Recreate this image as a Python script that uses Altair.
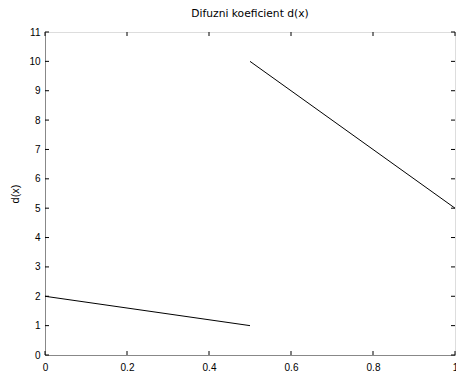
import altair as alt
import pandas as pd

# data
seg_id = ["a", "a", "b", "b"]
x_vals = [0.0, 0.5, 0.5, 1.0]
d_vals = [2.0, 1.0, 10.0, 5.0]
x_ticks = [0, 0.2, 0.4, 0.6, 0.8, 1.0]
y_ticks = list(range(0, 12))

W, H = 410, 323
TL = 4  # tick length
FONT = "DejaVu Sans"

df = pd.DataFrame({"seg": seg_id, "x": x_vals, "d": d_vals})
xt = pd.DataFrame({"t": x_ticks})
yt = pd.DataFrame({"t": y_ticks})

xs = alt.Scale(domain=[0, 1], nice=False)
ys = alt.Scale(domain=[0, 11], nice=False)

xa = alt.Axis(values=x_ticks, tickSize=0, grid=False, labelPadding=7,
              titlePadding=10, format="~g", labelFlush=False,
              labelOverlap=False, titleFontWeight="normal")
ya = alt.Axis(values=y_ticks, tickSize=0, grid=False, labelPadding=5,
              titlePadding=8, labelFlush=False, labelOverlap=False,
              titleFontWeight="normal")

lines = alt.Chart(df).mark_line(color="black", strokeWidth=1, clip=True).encode(
    x=alt.X("x:Q", scale=xs, title="x", axis=xa),
    y=alt.Y("d:Q", scale=ys, title="d(x)", axis=ya),
    detail="seg:N",
)

tick_style = dict(color="black", strokeWidth=1)
xb = alt.Chart(xt).mark_rule(**tick_style).encode(
    x=alt.X("t:Q", scale=xs, title="x", axis=xa), y=alt.value(H), y2=alt.value(H - TL))
xtop = alt.Chart(xt).mark_rule(**tick_style).encode(
    x=alt.X("t:Q", scale=xs, title="x", axis=xa), y=alt.value(0), y2=alt.value(TL))
yl = alt.Chart(yt).mark_rule(**tick_style).encode(
    y=alt.Y("t:Q", scale=ys, title="d(x)", axis=ya), x=alt.value(0), x2=alt.value(TL))
yr = alt.Chart(yt).mark_rule(**tick_style).encode(
    y=alt.Y("t:Q", scale=ys, title="d(x)", axis=ya), x=alt.value(W - TL), x2=alt.value(W))

chart = alt.layer(lines, xb, xtop, yl, yr).properties(
    width=W, height=H,
    title=alt.TitleParams("Difuzni koeficient d(x)", fontSize=10.7, font=FONT,
                          fontWeight="normal", color="black", offset=7),
    autosize=alt.AutoSizeParams(type="none"),
    padding={"left": 45, "top": 32, "right": 1, "bottom": 28},
).configure_view(stroke="black", strokeWidth=1).configure_axis(
    labelFont=FONT, titleFont=FONT, labelFontSize=11, titleFontSize=11,
    labelColor="black", titleColor="black", titleFontWeight="normal",
    domainColor="black", domainWidth=1,
).configure(background="white")

chart.save("out.html", embed_options={"renderer": "svg", "actions": False})
